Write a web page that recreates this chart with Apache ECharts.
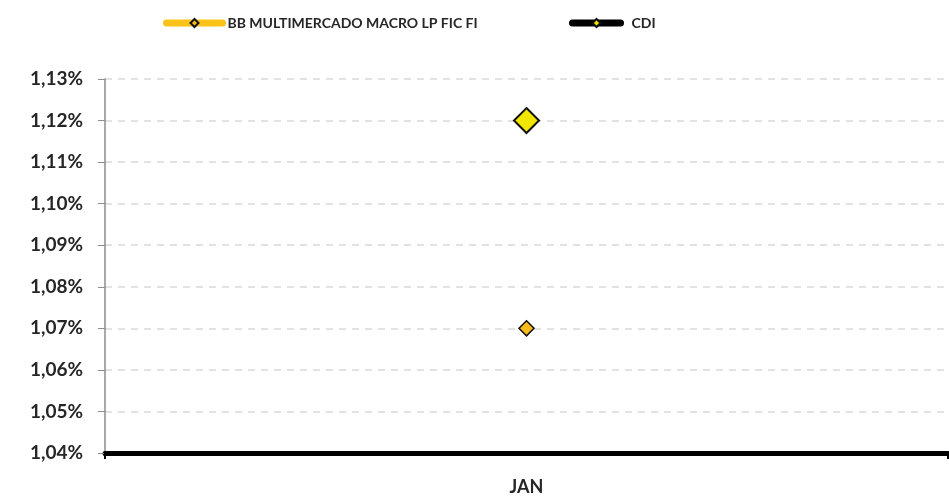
<!DOCTYPE html>
<html>
<head>
<meta charset="utf-8">
<script src="https://cdn.jsdelivr.net/npm/echarts@6/dist/echarts.min.js"></script>
<style>
  html, body { margin: 0; padding: 0; background: #fff; }
  #chart { width: 949px; height: 500px; }
</style>
</head>
<body>
<div id="chart"></div>
<script>
// categorias e valores (em %)
var meses = ['JAN'];
var fundoNome = 'BB MULTIMERCADO MACRO LP FIC FI';
var fundoValores = [1.07];
var cdiNome = 'CDI';
var cdiValores = [1.12];

var fonte = 'Lato, "Open Sans", sans-serif';

var chart = echarts.init(document.getElementById('chart'));

var option = {
    animation: false,
    legend: [{
        top: 11,
        left: 158,
        itemWidth: 56,
        itemHeight: 10,
        lineStyle: { width: 7, cap: 'round' },
        textStyle: { fontFamily: fonte, fontWeight: 'bold', fontSize: 14, color: '#262626' },
        data: [fundoNome]
    }, {
        top: 11,
        left: 564,
        itemWidth: 48,
        itemHeight: 10,
        lineStyle: { width: 7, cap: 'round' },
        textStyle: { fontFamily: fonte, fontWeight: 'bold', fontSize: 14, color: '#262626', padding: [0, 0, 0, 6] },
        data: [cdiNome]
    }],
    grid: { left: 105, right: 1, top: 79, bottom: 47 },
    xAxis: {
        type: 'category',
        data: meses,
        boundaryGap: true,
        axisLine: { lineStyle: { color: '#000', width: 5 } },
        axisTick: { show: true, length: 6, lineStyle: { color: '#000', width: 2 } },
        axisLabel: { fontFamily: fonte, fontWeight: 'bold', fontSize: 18, color: '#262626', margin: 25 }
    },
    yAxis: {
        type: 'value',
        min: 1.04,
        max: 1.13,
        interval: 0.01,
        axisLine: { show: true, lineStyle: { color: '#8c8c8c', width: 1.5 } },
        axisTick: { show: true, length: 7, lineStyle: { color: '#8c8c8c' } },
        axisLabel: {
            fontFamily: fonte, fontWeight: 'bold', fontSize: 19, color: '#262626', margin: 22,
            formatter: function (v) { return v.toFixed(2).replace('.', ',') + '%'; }
        },
        splitLine: { lineStyle: { color: '#d9d9d9', type: [7, 6], width: 1.5 } }
    },
    series: [
        {
            name: fundoNome,
            type: 'line',
            data: fundoValores,
            symbol: 'diamond',
            symbolSize: 15,
            itemStyle: { color: '#fbbb1a', borderColor: '#111', borderWidth: 1.5 },
            lineStyle: { color: '#fbc21a', width: 7, cap: 'round' }
        },
        {
            name: cdiNome,
            type: 'line',
            data: cdiValores,
            symbol: 'diamond',
            symbolSize: 25,
            itemStyle: { color: '#f2e600', borderColor: '#111', borderWidth: 2 },
            lineStyle: { color: '#000', width: 7, cap: 'round' }
        }
    ]
};
chart.setOption(option);
</script>
</body>
</html>
